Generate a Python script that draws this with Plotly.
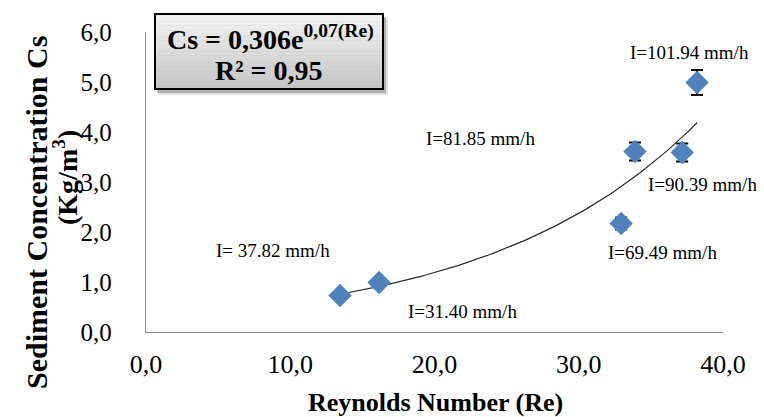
import numpy as np
import plotly.graph_objects as go

# ---- data ----
re_vals = [13.45, 16.16, 32.94, 33.90, 37.17, 38.20]
cs_vals = [0.73, 0.99, 2.17, 3.61, 3.59, 4.99]
cs_err = [0.05, 0.05, 0.12, 0.18, 0.18, 0.25]
intensity_labels = ["I= 37.82 mm/h", "I=31.40 mm/h", "I=69.49 mm/h",
                    "I=81.85 mm/h", "I=90.39 mm/h", "I=101.94 mm/h"]
x_tickvals = [0, 10, 20, 30, 40]
x_ticktext = ["0,0", "10,0", "20,0", "30,0", "40,0"]
y_tickvals = [0, 1, 2, 3, 4, 5, 6]
y_ticktext = ["0,0", "1,0", "2,0", "3,0", "4,0", "5,0", "6,0"]
eq_line1 = "<b>Cs = 0,306e<sup>0,07(Re)</sup></b>"
eq_line2 = "<b>R² = 0,95</b>"
x_title = "<b>Reynolds Number (Re)</b>"
y_title_1 = "<b>Sediment Concentration Cs</b>"
y_title_2 = "<b>(Kg/m<sup>3</sup>)</b>"

# ---- layout geometry ----
W, H = 764, 417
ML, MR, MT, MB = 138, 49, 24, 93
PW, PH = W - ML - MR, H - MT - MB

def px(xp):
    return (xp - ML) / PW

def py(yp):
    return (H - MB - yp) / PH

SERIF = "Liberation Serif, Times New Roman, serif"

# exponential trendline (least squares in log space)
b, ln_a = np.polyfit(np.array(re_vals), np.log(np.array(cs_vals)), 1)
xt = np.linspace(min(re_vals), max(re_vals), 120)
yt = np.exp(ln_a) * np.exp(b * xt)

fig = go.Figure()
fig.add_trace(go.Scatter(x=xt, y=yt, mode="lines",
                         line=dict(color="#2b2b2b", width=1.2),
                         hoverinfo="skip", showlegend=False))
fig.add_trace(go.Scatter(
    x=re_vals, y=cs_vals, mode="markers",
    marker=dict(symbol="diamond", size=18, color="#4F81BD"),
    error_y=dict(type="data", array=cs_err, visible=True,
                 color="black", thickness=2.2, width=6),
    showlegend=False))

# label offsets (pixels) of each label's left edge / centre line from its point
label_shift = [(-126, 45), (27, -29), (-15, -29), (-211, 13), (-36, -32), (-69, 30)]
annotations = []
for xv, yv, txt, (dx, dy) in zip(re_vals, cs_vals, intensity_labels, label_shift):
    annotations.append(dict(x=xv, y=yv, xref="x", yref="y", text=txt,
                            showarrow=False, xshift=dx, yshift=dy,
                            xanchor="left", yanchor="middle",
                            font=dict(family=SERIF, size=19, color="black")))

# equation box
bx0, bx1, by0, by1 = 147, 375, 6, 81
shapes = []
shapes.append(dict(type="rect", xref="paper", yref="paper",
                   x0=px(bx0 + 3), x1=px(bx1 + 5), y0=py(by1 + 6), y1=py(by0 + 4),
                   fillcolor="rgba(0,0,0,0.12)", line=dict(width=0), layer="above"))
shapes.append(dict(type="rect", xref="paper", yref="paper",
                   x0=px(bx0 + 2), x1=px(bx1 + 3), y0=py(by1 + 4), y1=py(by0 + 3),
                   fillcolor="rgba(0,0,0,0.22)", line=dict(width=0), layer="above"))
nb = 20
c_top, c_bot = 244, 196
for i in range(nb):
    y0p = by0 + (by1 - by0) * i / nb
    y1p = by0 + (by1 - by0) * (i + 1) / nb
    c = int(round(c_top + (c_bot - c_top) * (i + 0.5) / nb))
    shapes.append(dict(type="rect", xref="paper", yref="paper",
                       x0=px(bx0), x1=px(bx1), y0=py(y1p + 0.3), y1=py(y0p),
                       fillcolor=f"rgb({c},{c},{c})", line=dict(width=0),
                       layer="above"))
shapes.append(dict(type="rect", xref="paper", yref="paper",
                   x0=px(bx0), x1=px(bx1), y0=py(by1), y1=py(by0),
                   fillcolor="rgba(0,0,0,0)", line=dict(color="black", width=2),
                   layer="above"))

annotations.append(dict(x=px(262), y=py(29), xref="paper", yref="paper",
                        text=eq_line1, showarrow=False, xanchor="center",
                        yanchor="middle",
                        font=dict(family=SERIF, size=28, color="black")))
annotations.append(dict(x=px(261), y=py(62), xref="paper", yref="paper",
                        text=eq_line2, showarrow=False, xanchor="center",
                        yanchor="middle",
                        font=dict(family=SERIF, size=28, color="black")))

# axis titles
annotations.append(dict(x=px(427), y=py(394), xref="paper", yref="paper",
                        text=x_title, showarrow=False, xanchor="center",
                        yanchor="middle",
                        font=dict(family=SERIF, size=26, color="black")))
annotations.append(dict(x=px(29), y=py(205), xref="paper", yref="paper",
                        text=y_title_1, showarrow=False, textangle=-90,
                        xanchor="center", yanchor="middle",
                        font=dict(family=SERIF, size=30, color="black")))
annotations.append(dict(x=px(57), y=py(170), xref="paper", yref="paper",
                        text=y_title_2, showarrow=False, textangle=-90,
                        xanchor="center", yanchor="middle",
                        font=dict(family=SERIF, size=28, color="black")))

fig.update_layout(
    width=W, height=H,
    margin=dict(l=ML, r=MR, t=MT, b=MB, pad=0),
    paper_bgcolor="white", plot_bgcolor="white",
    shapes=shapes, annotations=annotations,
    xaxis=dict(range=[0, 40], tickvals=x_tickvals, ticktext=x_ticktext,
               showgrid=False, zeroline=False, showline=True,
               linecolor="#8c8c8c", linewidth=1.3, ticks="",
               ticklabelstandoff=9,
               tickfont=dict(family=SERIF, size=26, color="black")),
    yaxis=dict(range=[0, 6], tickvals=y_tickvals, ticktext=y_ticktext,
               showgrid=False, zeroline=False, showline=True,
               linecolor="#8c8c8c", linewidth=1.3, ticks="",
               ticklabelstandoff=28,
               tickfont=dict(family=SERIF, size=25, color="black")),
)

fig.write_html("out.html")
